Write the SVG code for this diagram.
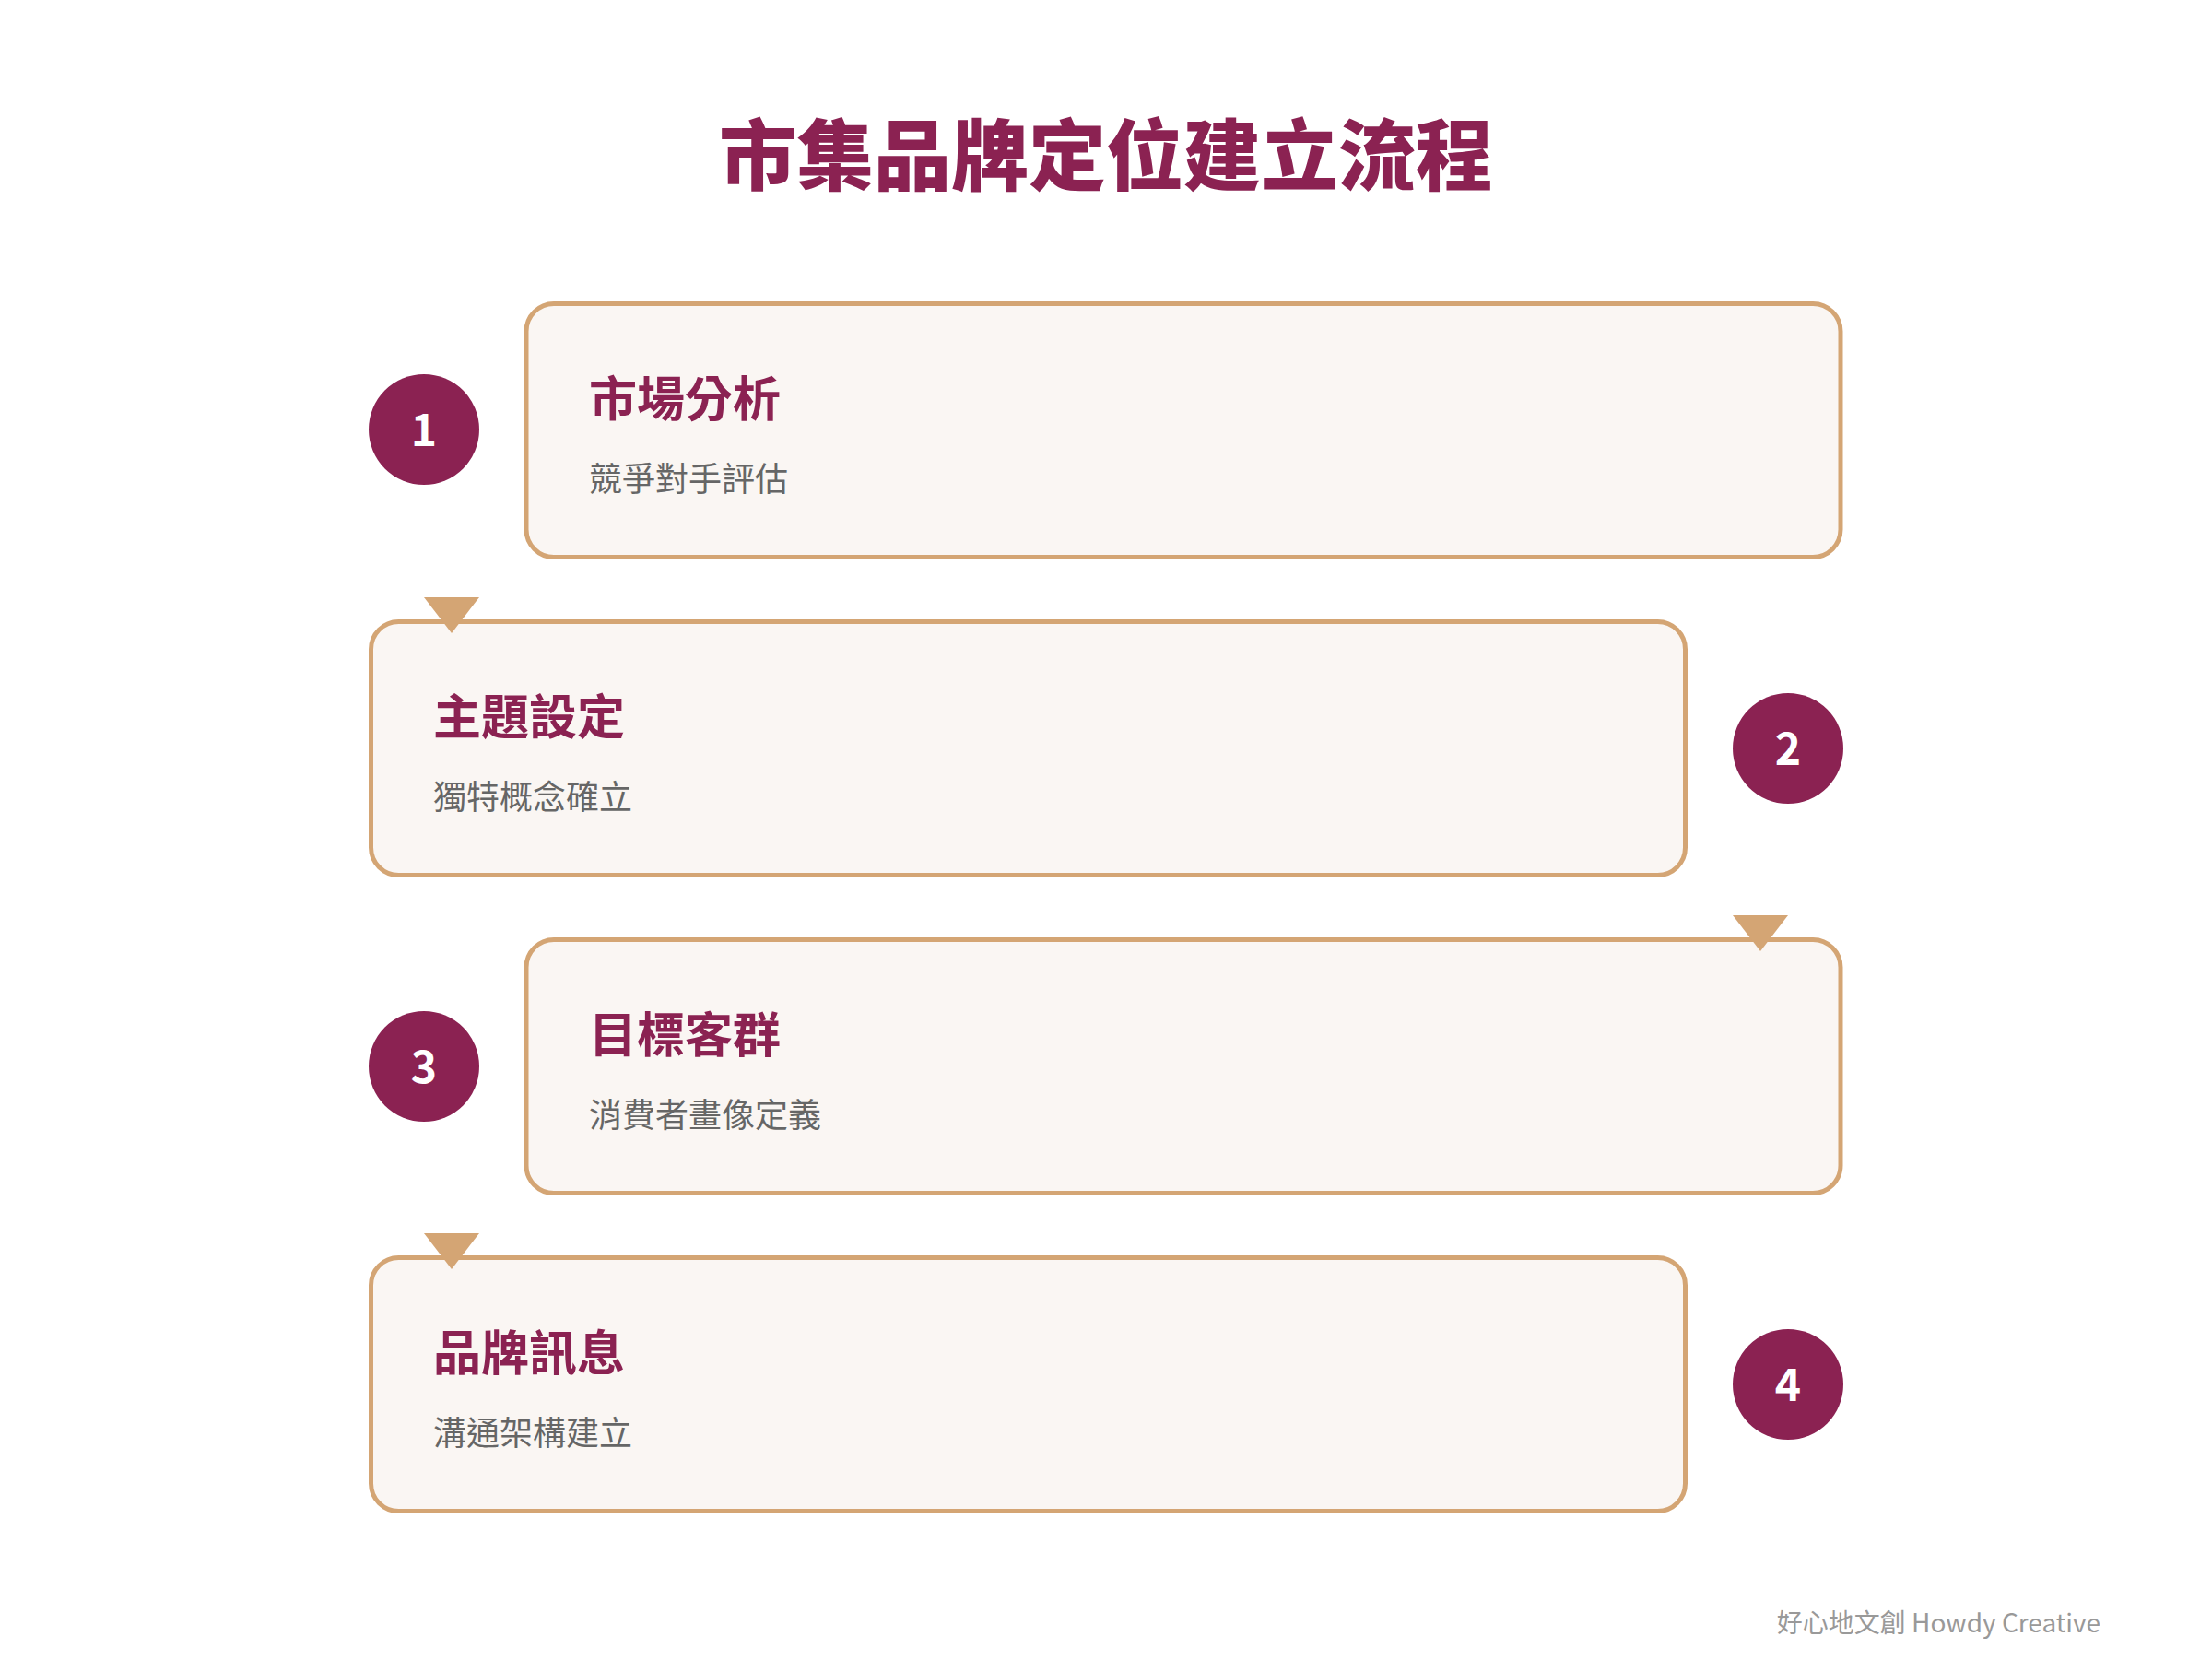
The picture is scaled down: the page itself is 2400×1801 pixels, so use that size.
<svg xmlns="http://www.w3.org/2000/svg" width="2400" height="1801" viewBox="0 0 2400 1801">
  <style>
    .box { fill: #FAF6F3; stroke: #D4A574; stroke-width: 5; }
    .badge { fill: #8B2252; }
    .num { fill: #FFFFFF; font-family: "Noto Sans CJK TC", "Noto Sans", sans-serif; font-weight: 700; font-size: 48px; text-anchor: middle; }
    .ttl { fill: #8B2252; font-family: "Noto Sans CJK TC", sans-serif; font-weight: 700; font-size: 52px; }
    .sub { fill: #666666; font-family: "Noto Sans CJK TC", sans-serif; font-weight: 400; font-size: 36px; }
    .tri { fill: #D4A574; }
  </style>
  <rect width="2400" height="1801" fill="#FFFFFF"/>
  <text x="1200" y="200" text-anchor="middle" fill="#8B2252" font-family="'Noto Sans CJK TC', sans-serif" font-weight="900" font-size="84">市集品牌定位建立流程</text>

  <g id="step1">
    <rect class="box" x="571" y="329.5" width="1426" height="275" rx="30"/>
    <circle class="badge" cx="460" cy="466" r="60"/>
    <text class="num" x="460" y="484">1</text>
    <text class="ttl" x="639" y="452">市場分析</text>
    <text class="sub" x="639" y="533">競爭對手評估</text>
  </g>
  <g id="step2">
    <rect class="box" x="402.5" y="674.5" width="1426" height="275" rx="30"/>
    <circle class="badge" cx="1940" cy="812" r="60"/>
    <text class="num" x="1940" y="830">2</text>
    <text class="ttl" x="470" y="797">主題設定</text>
    <text class="sub" x="470" y="878">獨特概念確立</text>
  </g>
  <g id="step3">
    <rect class="box" x="571" y="1019.5" width="1426" height="275" rx="30"/>
    <circle class="badge" cx="460" cy="1157" r="60"/>
    <text class="num" x="460" y="1175">3</text>
    <text class="ttl" x="639" y="1142">目標客群</text>
    <text class="sub" x="639" y="1223">消費者畫像定義</text>
  </g>
  <g id="step4">
    <rect class="box" x="402.5" y="1364.5" width="1426" height="275" rx="30"/>
    <circle class="badge" cx="1940" cy="1502" r="60"/>
    <text class="num" x="1940" y="1520">4</text>
    <text class="ttl" x="470" y="1487">品牌訊息</text>
    <text class="sub" x="470" y="1568">溝通架構建立</text>
  </g>

  <g id="connectors">
    <polygon class="tri" points="460,648 520,648 490,687"/>
    <polygon class="tri" points="1880,993 1940,993 1910,1032"/>
    <polygon class="tri" points="460,1338 520,1338 490,1377"/>
  </g>

  <text x="2279" y="1771" text-anchor="end" fill="#999999" font-family="'Noto Sans CJK TC', sans-serif" font-size="28">好心地文創 Howdy Creative</text>
</svg>
